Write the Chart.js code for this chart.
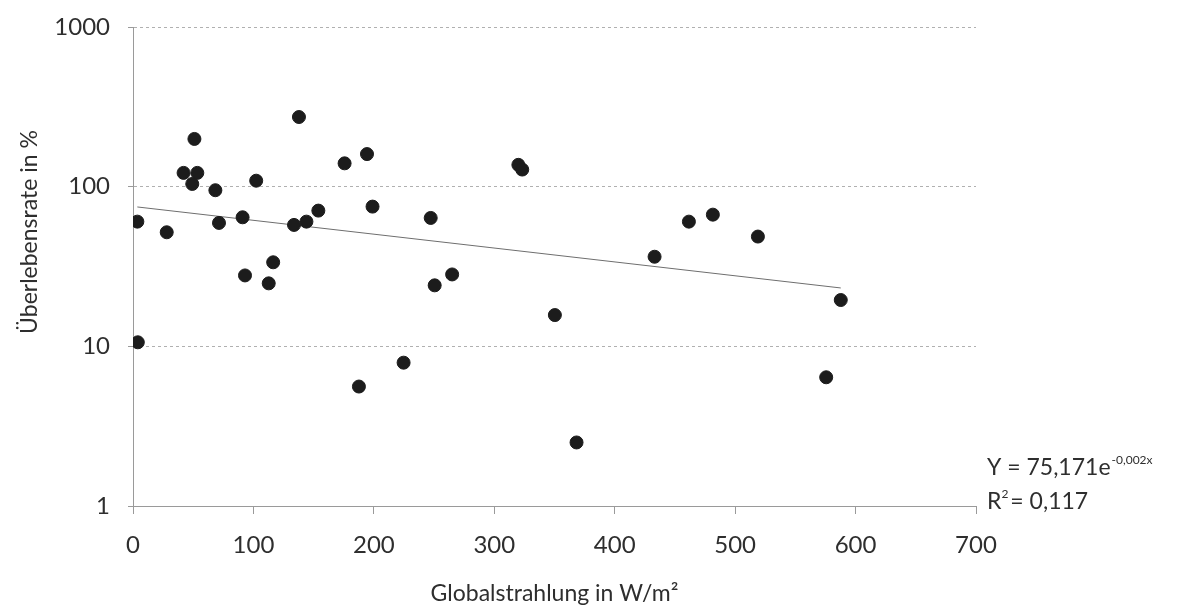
<!DOCTYPE html>
<html>
<head>
<meta charset="utf-8">
<title>Überlebensrate vs. Globalstrahlung</title>
<script src="https://cdn.jsdelivr.net/npm/chart.js@4"></script>
<style>
  html, body { margin: 0; padding: 0; background: #fff; }
  #wrap { width: 1177px; height: 615px; }
</style>
</head>
<body>
<div id="wrap"><canvas id="chart"></canvas></div>
<script>
// Globalstrahlung (W/m²) and Überlebensrate (%) per sample
const radiation = [3.6, 4, 28, 42, 51, 53.4, 49.2, 68.4, 71.4, 91, 93, 102.3,
  112.7, 116.4, 133.7, 137.8, 144, 153.9, 175.7, 187.6, 194.3, 198.9, 224.7,
  247.2, 250.5, 265, 320, 323.2, 350.3, 368.3, 433.1, 461.6, 481.5, 518.9,
  575.6, 587.7];
const survival = [60.4, 10.6, 51.8, 122, 199, 122, 104, 95, 59.3, 64.3, 27.8, 109,
  24.8, 33.6, 57.6, 273, 60.4, 70.8, 140, 5.6, 160, 75, 7.9,
  63.7, 24.1, 28.2, 137, 128, 15.7, 2.5, 36.4, 60.4, 66.8, 48.7,
  6.4, 19.5];

const xTicks = [0, 100, 200, 300, 400, 500, 600, 700];
const yTicks = [1, 10, 100, 1000];

// exponential trend: Y = a * e^(b*x)
const trendA = 75.171;
const trendB = -0.002;
const rSquared = 0.117;

const FONT = 'Lato, "Open Sans", sans-serif';
const TEXT = '#2e2e2e';
const AXIS = '#9a9a9a';

const points = radiation.map((x, i) => ({ x: x, y: survival[i] }));
const xMin = Math.min(...radiation);
const xMax = Math.max(...radiation);
const trend = [xMin, xMax].map(x => ({ x: x, y: trendA * Math.exp(trendB * x) }));

const de = v => String(v).replace('.', ',');

// rotated y title and the trend equation next to the plot
const annotations = {
  id: 'annotations',
  afterDraw(chart) {
    const ctx = chart.ctx;
    ctx.save();
    ctx.fillStyle = TEXT;
    ctx.textBaseline = 'middle';

    ctx.save();
    ctx.translate(30, 232);
    ctx.rotate(-Math.PI / 2);
    ctx.textAlign = 'center';
    ctx.font = '23px ' + FONT;
    ctx.fillText('Überlebensrate in %', 0, 0);
    ctx.restore();

    ctx.textAlign = 'left';
    ctx.textBaseline = 'alphabetic';
    let x = 987;
    const y1 = 475, y2 = 509;
    ctx.font = '23px ' + FONT;
    const main = 'Y = ' + de(trendA) + 'e';
    ctx.fillText(main, x, y1);
    x += ctx.measureText(main).width + 1;
    ctx.font = '12px ' + FONT;
    ctx.fillText(de(trendB) + 'x', x, y1 - 11);

    x = 987;
    ctx.font = '23px ' + FONT;
    ctx.fillText('R', x, y2);
    x += ctx.measureText('R').width;
    ctx.font = '12px ' + FONT;
    ctx.fillText('2', x, y2 - 11);
    x += ctx.measureText('2').width + 2;
    ctx.font = '23px ' + FONT;
    ctx.fillText('= ' + de(rSquared), x, y2);
    ctx.restore();
  }
};

const ctx = document.getElementById('chart').getContext('2d');
new Chart(ctx, {
  type: 'scatter',
  data: {
    datasets: [
      {
        label: 'Überlebensrate',
        data: points,
        backgroundColor: '#1c1c1c',
        borderColor: '#1c1c1c',
        pointRadius: 6.5,
        pointHoverRadius: 6.5
      },
      {
        type: 'line',
        label: 'Trend',
        data: trend,
        borderColor: '#6e6e6e',
        borderWidth: 1,
        pointRadius: 0,
        fill: false
      }
    ]
  },
  options: {
    responsive: true,
    maintainAspectRatio: false,
    animation: false,
    layout: { padding: { left: 0, right: 201, top: 27, bottom: 0 } },
    plugins: {
      legend: { display: false },
      tooltip: { enabled: false }
    },
    scales: {
      x: {
        type: 'linear',
        min: 0,
        max: 700,
        afterBuildTicks: scale => { scale.ticks = xTicks.map(v => ({ value: v })); },
        afterFit: scale => { scale.height = 109; },
        grid: { drawOnChartArea: false, tickLength: 8, color: AXIS },
        border: { color: AXIS, width: 1 },
        ticks: {
          padding: 17,
          color: TEXT,
          font: { family: FONT, size: 24 },
          callback: v => String(v)
        },
        title: {
          display: true,
          text: 'Globalstrahlung in W/m²',
          color: TEXT,
          font: { family: FONT, size: 23 },
          padding: { top: 0, bottom: 8 }
        }
      },
      y: {
        type: 'logarithmic',
        min: 1,
        max: 1000,
        afterBuildTicks: scale => { scale.ticks = yTicks.map(v => ({ value: v })); },
        afterFit: scale => {
          scale.width = 133;
          scale.paddingTop = 0;
          scale.paddingBottom = 0;
        },
        grid: { color: '#b0b0b0', tickLength: 5, tickColor: AXIS, tickBorderDash: [] },
        border: { color: AXIS, width: 1, dash: [3, 3] },
        ticks: {
          padding: 18,
          color: TEXT,
          font: { family: FONT, size: 24 },
          callback: v => String(v)
        }
      }
    }
  },
  plugins: [annotations]
});
</script>
</body>
</html>
